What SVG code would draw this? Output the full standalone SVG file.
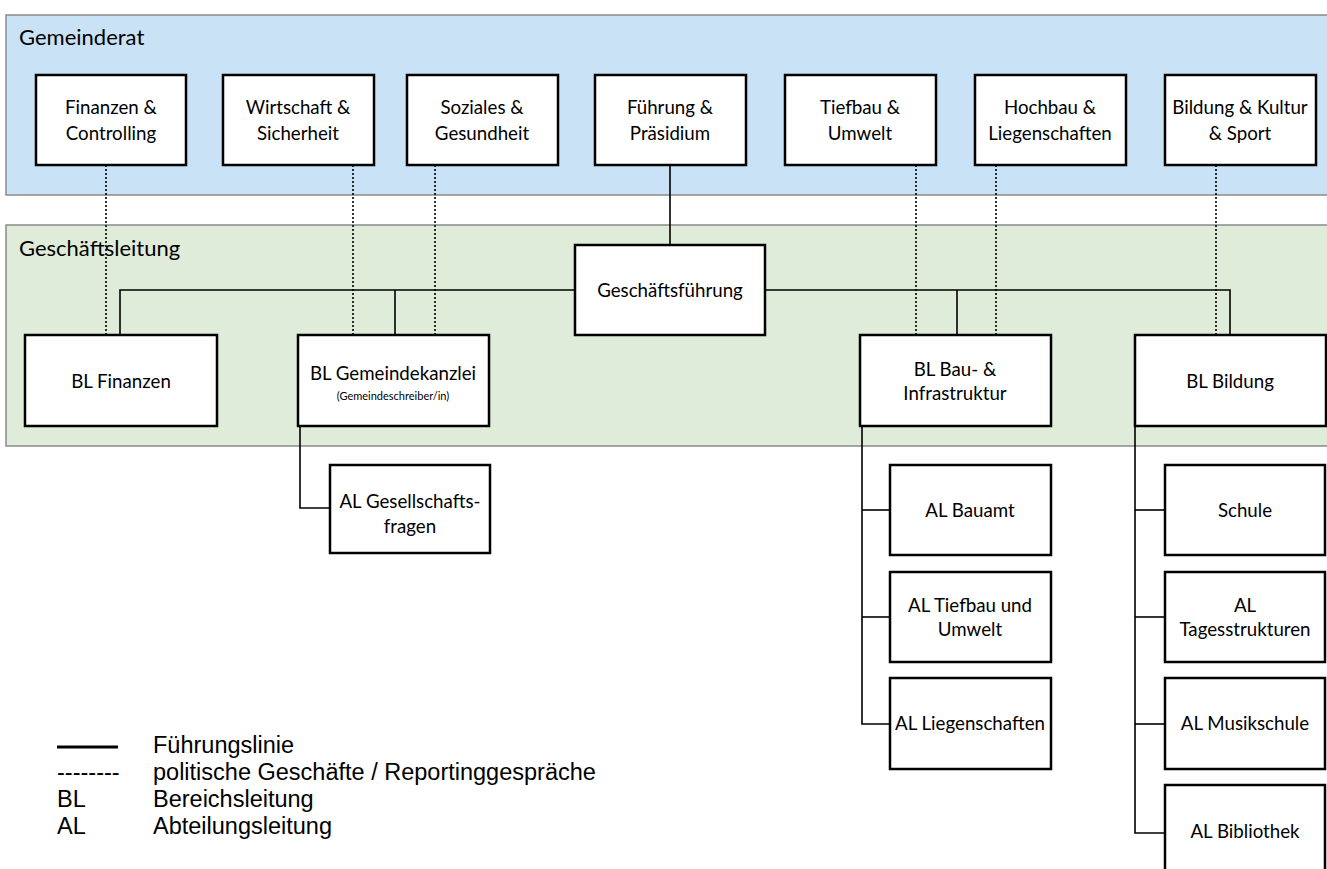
<svg xmlns="http://www.w3.org/2000/svg" width="1327" height="869" viewBox="0 0 1327 869">
<style>
.band{stroke:#8a8a8a;stroke-width:1.5}
.box{fill:#fff;stroke:#000;stroke-width:2.5}
.t{font-family:Lato,"Open Sans","Liberation Sans",sans-serif;font-size:18.7px;fill:#000;text-anchor:middle}
.small{font-size:11px}
.title{font-family:Lato,"Open Sans","Liberation Sans",sans-serif;font-size:22px;fill:#000}
.solid{stroke:#000;stroke-width:1.6;fill:none}
.dot{stroke:#000;stroke-width:1.6;fill:none;stroke-dasharray:2 2}
.lg{font-family:"Liberation Sans",Arial,sans-serif;font-size:23.5px;fill:#000}
</style>
<rect width="1327" height="869" fill="#fff"/>
<g id="band-gemeinderat">
<rect class="band" x="6" y="15" width="1330" height="180" fill="#c9e2f6"/>
<text class="title" x="19" y="45">Gemeinderat</text>
</g>
<g id="band-geschaeftsleitung">
<rect class="band" x="6" y="225" width="1330" height="221" fill="#deecd9"/>
<text class="title" x="19" y="256">Geschäftsleitung</text>
</g>
<g id="connectors">
<line class="dot" x1="106" y1="165" x2="106" y2="335"/>
<line class="dot" x1="353" y1="165" x2="353" y2="335"/>
<line class="dot" x1="435" y1="165" x2="435" y2="335"/>
<line class="dot" x1="916" y1="165" x2="916" y2="335"/>
<line class="dot" x1="996" y1="165" x2="996" y2="335"/>
<line class="dot" x1="1216" y1="165" x2="1216" y2="335"/>
<line class="solid" x1="670" y1="165" x2="670" y2="245"/>
<polyline class="solid" points="120,335 120,290 1230,290 1230,335"/>
<line class="solid" x1="395" y1="290" x2="395" y2="335"/>
<line class="solid" x1="957" y1="290" x2="957" y2="335"/>
<polyline class="solid" points="300,426 300,508 330,508"/>
<polyline class="solid" points="862,426 862,724 890,724"/>
<line class="solid" x1="862" y1="510" x2="890" y2="510"/>
<line class="solid" x1="862" y1="617" x2="890" y2="617"/>
<polyline class="solid" points="1135,426 1135,833 1165,833"/>
<line class="solid" x1="1135" y1="510" x2="1165" y2="510"/>
<line class="solid" x1="1135" y1="617" x2="1165" y2="617"/>
<line class="solid" x1="1135" y1="724" x2="1165" y2="724"/>
</g>
<g id="gr-finanzen"><rect class="box" x="36" y="75" width="150" height="90"/><text class="t" x="111" y="114">Finanzen &amp;</text><text class="t" x="111" y="140">Controlling</text></g>
<g id="gr-wirtschaft"><rect class="box" x="223" y="75" width="151" height="90"/><text class="t" x="298" y="114">Wirtschaft &amp;</text><text class="t" x="298" y="140">Sicherheit</text></g>
<g id="gr-soziales"><rect class="box" x="407" y="75" width="151" height="90"/><text class="t" x="482" y="114">Soziales &amp;</text><text class="t" x="482" y="140">Gesundheit</text></g>
<g id="gr-fuehrung"><rect class="box" x="595" y="75" width="151" height="90"/><text class="t" x="670" y="114">Führung &amp;</text><text class="t" x="670" y="140">Präsidium</text></g>
<g id="gr-tiefbau"><rect class="box" x="785" y="75" width="151" height="90"/><text class="t" x="860" y="114">Tiefbau &amp;</text><text class="t" x="860" y="140">Umwelt</text></g>
<g id="gr-hochbau"><rect class="box" x="975" y="75" width="151" height="90"/><text class="t" x="1050" y="114">Hochbau &amp;</text><text class="t" x="1050" y="140">Liegenschaften</text></g>
<g id="gr-bildung"><rect class="box" x="1165" y="75" width="151" height="90"/><text class="t" x="1240" y="114">Bildung &amp; Kultur</text><text class="t" x="1240" y="140">&amp; Sport</text></g>
<g id="geschaeftsfuehrung"><rect class="box" x="575" y="245" width="190" height="90"/><text class="t" x="670" y="297">Geschäftsführung</text></g>
<g id="bl-finanzen"><rect class="box" x="25" y="335" width="192" height="91"/><text class="t" x="121" y="388">BL Finanzen</text></g>
<g id="bl-gemeindekanzlei"><rect class="box" x="298" y="335" width="191" height="91"/><text class="t" x="393" y="380">BL Gemeindekanzlei</text><text class="t small" x="393" y="400">(Gemeindeschreiber/in)</text></g>
<g id="bl-bau"><rect class="box" x="860" y="335" width="191" height="91"/><text class="t" x="955" y="376">BL Bau- &amp;</text><text class="t" x="955" y="400">Infrastruktur</text></g>
<g id="bl-bildung"><rect class="box" x="1135" y="335" width="191" height="91"/><text class="t" x="1230" y="388">BL Bildung</text></g>
<g id="al-gesellschaftsfragen"><rect class="box" x="330" y="465" width="160" height="88"/><text class="t" x="410" y="508">AL Gesellschafts-</text><text class="t" x="410" y="533">fragen</text></g>
<g id="al-bauamt"><rect class="box" x="890" y="465" width="161" height="90"/><text class="t" x="970" y="517">AL Bauamt</text></g>
<g id="al-tiefbau"><rect class="box" x="890" y="572" width="161" height="90"/><text class="t" x="970" y="612">AL Tiefbau und</text><text class="t" x="970" y="636">Umwelt</text></g>
<g id="al-liegenschaften"><rect class="box" x="890" y="678" width="161" height="91"/><text class="t" x="970" y="730">AL Liegenschaften</text></g>
<g id="schule"><rect class="box" x="1165" y="465" width="160" height="90"/><text class="t" x="1245" y="517">Schule</text></g>
<g id="al-tagesstrukturen"><rect class="box" x="1165" y="572" width="160" height="90"/><text class="t" x="1245" y="612">AL</text><text class="t" x="1245" y="636">Tagesstrukturen</text></g>
<g id="al-musikschule"><rect class="box" x="1165" y="678" width="160" height="91"/><text class="t" x="1245" y="730">AL Musikschule</text></g>
<g id="al-bibliothek"><rect class="box" x="1165" y="785" width="160" height="92"/><text class="t" x="1245" y="838">AL Bibliothek</text></g>
<g id="legend">
<line x1="57" y1="747" x2="118" y2="747" stroke="#000" stroke-width="3"/>
<text class="lg" x="153" y="753">Führungslinie</text>
<text class="lg" x="57" y="780">--------</text>
<text class="lg" x="153" y="780">politische Geschäfte / Reportinggespräche</text>
<text class="lg" x="57" y="807">BL</text>
<text class="lg" x="153" y="807">Bereichsleitung</text>
<text class="lg" x="57" y="834">AL</text>
<text class="lg" x="153" y="834">Abteilungsleitung</text>
</g>
</svg>
